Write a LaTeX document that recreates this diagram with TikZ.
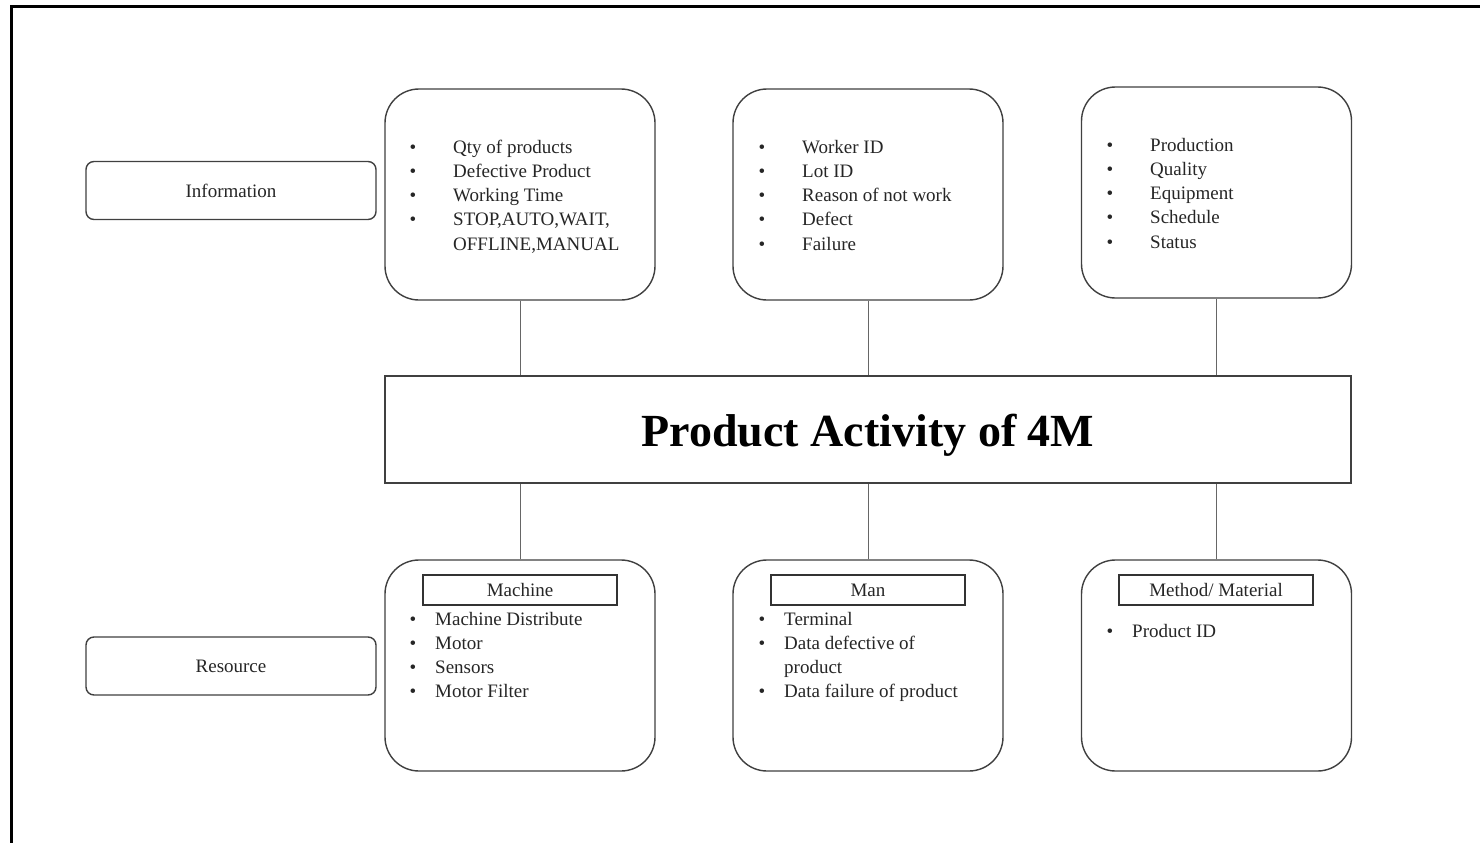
\documentclass[tikz,border=0pt]{standalone}
\usepackage{fontspec}
\setmainfont{Liberation Serif}
\begin{document}
\begin{tikzpicture}[x=1pt,y=-1pt,
  txt/.style={font=\fontsize{19}{22}\selectfont,text=black!85},
  panel/.style={draw=black!75,line width=1.4pt,rounded corners=34pt,
    minimum width=270pt,minimum height=211pt,inner sep=0pt},
  tag/.style={txt,draw=black!75,line width=1.4pt,rounded corners=8pt,
    minimum width=290pt,minimum height=58pt,inner sep=0pt},
  heading/.style={txt,draw=black!80,line width=1.6pt,
    minimum width=194pt,minimum height=30pt,inner sep=0pt},
  core/.style={draw=black!75,line width=1.4pt,minimum width=966pt,
    minimum height=107pt,inner sep=0pt,text height=40pt,text depth=7pt,
    font=\fontsize{46}{50}\selectfont\bfseries,text=black},
  item/.style={txt,anchor=base west,inner sep=0pt},
  dot/.style={txt,anchor=base,inner sep=0pt},
  link/.style={draw=black!60,line width=1pt}]
\useasboundingbox (0,0) rectangle (1480,843);
\fill[white] (0,0) rectangle (1480,843);
% page frame (top and left edges)
\draw[line width=3pt] (11,843) -- (11,7) -- (1480,7);

% side labels
\node[tag] (info) at (231,190.5) {Information};
\node[tag] (res) at (231,666) {Resource};

% upper panels
\node[panel] (p1) at (520,194.5) {};
\node[panel] (p2) at (868,194.5) {};
\node[panel] (p3) at (1216.5,192.5) {};

% central block
\node[core] (core) at (868,429.5) {Product Activity of 4M};

% lower panels
\node[panel] (b1) at (520,665.5) {};
\node[panel] (b2) at (868,665.5) {};
\node[panel] (b3) at (1216.5,665.5) {};

% connectors
\draw[link] (p1.south) -- (p1.south |- core.north);
\draw[link] (p2.south) -- (p2.south |- core.north);
\draw[link] (p3.south) -- (p3.south |- core.north);
\draw[link] (b1.north) -- (b1.north |- core.south);
\draw[link] (b2.north) -- (b2.north |- core.south);
\draw[link] (b3.north) -- (b3.north |- core.south);

% panel 1: information items
\node[dot] (d11) at (413,153) {\textbullet};
\node[dot] (d12) at (413,177.3) {\textbullet};
\node[dot] (d13) at (413,201.6) {\textbullet};
\node[dot] (d14) at (413,225.9) {\textbullet};
\node[item] (i11) at (453,153) {Qty of products};
\node[item] (i12) at (453,177.3) {Defective Product};
\node[item] (i13) at (453,201.6) {Working Time};
\node[item] (i14) at (453,225.9) {STOP,AUTO,WAIT,};
\node[item] (i15) at (453,250.2) {OFFLINE,MANUAL};

% panel 2
\node[dot] (d21) at (762,153) {\textbullet};
\node[dot] (d22) at (762,177.3) {\textbullet};
\node[dot] (d23) at (762,201.6) {\textbullet};
\node[dot] (d24) at (762,225.9) {\textbullet};
\node[dot] (d25) at (762,250.2) {\textbullet};
\node[item] (i21) at (802,153) {Worker ID};
\node[item] (i22) at (802,177.3) {Lot ID};
\node[item] (i23) at (802,201.6) {Reason of not work};
\node[item] (i24) at (802,225.9) {Defect};
\node[item] (i25) at (802,250.2) {Failure};

% panel 3
\node[dot] (d31) at (1110,151) {\textbullet};
\node[dot] (d32) at (1110,175.3) {\textbullet};
\node[dot] (d33) at (1110,199.6) {\textbullet};
\node[dot] (d34) at (1110,223.9) {\textbullet};
\node[dot] (d35) at (1110,248.2) {\textbullet};
\node[item] (i31) at (1150,151) {Production};
\node[item] (i32) at (1150,175.3) {Quality};
\node[item] (i33) at (1150,199.6) {Equipment};
\node[item] (i34) at (1150,223.9) {Schedule};
\node[item] (i35) at (1150,248.2) {Status};

% lower panel headings
\node[heading] (h1) at (520,590) {Machine};
\node[heading] (h2) at (868,590) {Man};
\node[heading] (h3) at (1216,590) {Method/ Material};

% machine items
\node[dot] (e11) at (413,625) {\textbullet};
\node[dot] (e12) at (413,649.3) {\textbullet};
\node[dot] (e13) at (413,673.6) {\textbullet};
\node[dot] (e14) at (413,697.9) {\textbullet};
\node[item] (j11) at (435,625) {Machine Distribute};
\node[item] (j12) at (435,649.3) {Motor};
\node[item] (j13) at (435,673.6) {Sensors};
\node[item] (j14) at (435,697.9) {Motor Filter};

% man items
\node[dot] (e21) at (762,625) {\textbullet};
\node[dot] (e22) at (762,649.3) {\textbullet};
\node[dot] (e24) at (762,697.9) {\textbullet};
\node[item] (j21) at (784,625) {Terminal};
\node[item] (j22) at (784,649.3) {Data defective of};
\node[item] (j23) at (784,673.6) {product};
\node[item] (j24) at (784,697.9) {Data failure of product};

% method / material items
\node[dot] (e31) at (1110,637) {\textbullet};
\node[item] (j31) at (1132,637) {Product ID};
\end{tikzpicture}
\end{document}
